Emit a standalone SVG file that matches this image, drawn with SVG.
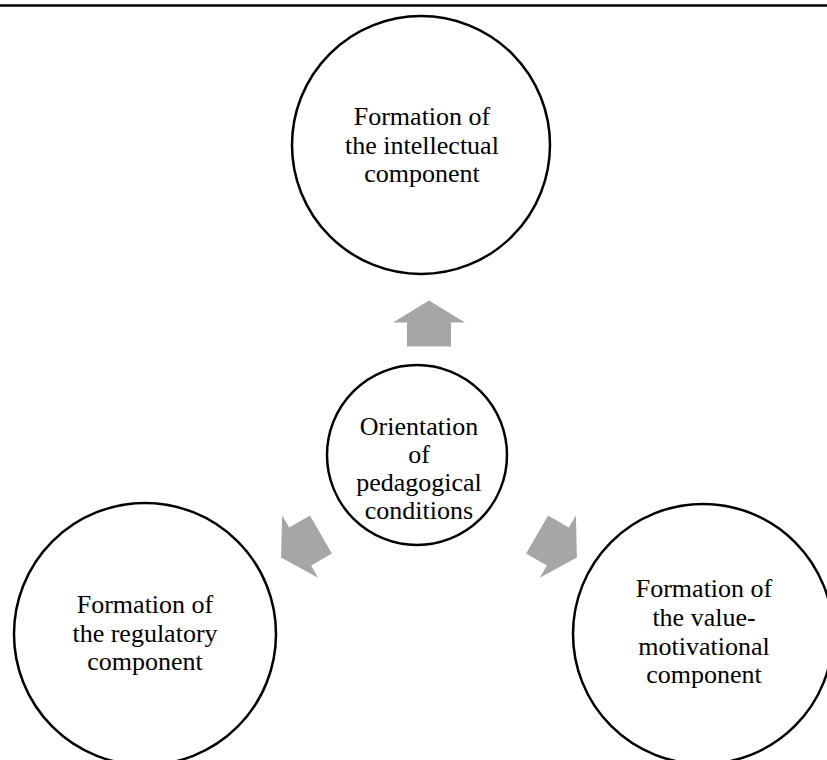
<svg xmlns="http://www.w3.org/2000/svg" width="827" height="760" viewBox="0 0 827 760">
  <style>
    .node circle { fill: #ffffff; stroke: #000000; stroke-width: 2.5; }
    .node text { font-family: "Liberation Serif", "Times New Roman", serif; font-size: 26px; fill: #000000; text-anchor: middle; }
    .arrow { fill: #a6a6a6; stroke: none; }
  </style>
  <defs>
    <path id="arrowShape" d="M0,-23 L36,-1 L22,-1 L22,23 L-22,23 L-22,-1 L-36,-1 Z"/>
  </defs>
  <rect x="0" y="0" width="827" height="760" fill="#ffffff"/>
  <line x1="0" y1="5.5" x2="827" y2="5.5" stroke="#000000" stroke-width="2.5"/>

  <g id="connectors">
    <use href="#arrowShape" class="arrow" transform="translate(429,323.5)"/>
    <use href="#arrowShape" class="arrow" transform="translate(301,546) rotate(-120)"/>
    <use href="#arrowShape" class="arrow" transform="translate(557,546) rotate(120)"/>
  </g>

  <g id="node-intellectual" class="node">
    <circle cx="421" cy="145" r="129"/>
    <text x="422" y="125">Formation of</text>
    <text x="422" y="153.5">the intellectual</text>
    <text x="422" y="182">component</text>
  </g>

  <g id="node-center" class="node">
    <circle cx="417" cy="455" r="90"/>
    <text x="419" y="435">Orientation</text>
    <text x="419" y="463">of</text>
    <text x="419" y="491">pedagogical</text>
    <text x="419" y="519">conditions</text>
  </g>

  <g id="node-regulatory" class="node">
    <circle cx="145" cy="634" r="131"/>
    <text x="145" y="613">Formation of</text>
    <text x="145" y="641.5">the regulatory</text>
    <text x="145" y="670">component</text>
  </g>

  <g id="node-value" class="node">
    <circle cx="703" cy="634" r="130"/>
    <text x="704" y="597">Formation of</text>
    <text x="704" y="626">the value-</text>
    <text x="704" y="654.5">motivational</text>
    <text x="704" y="683">component</text>
  </g>
</svg>
